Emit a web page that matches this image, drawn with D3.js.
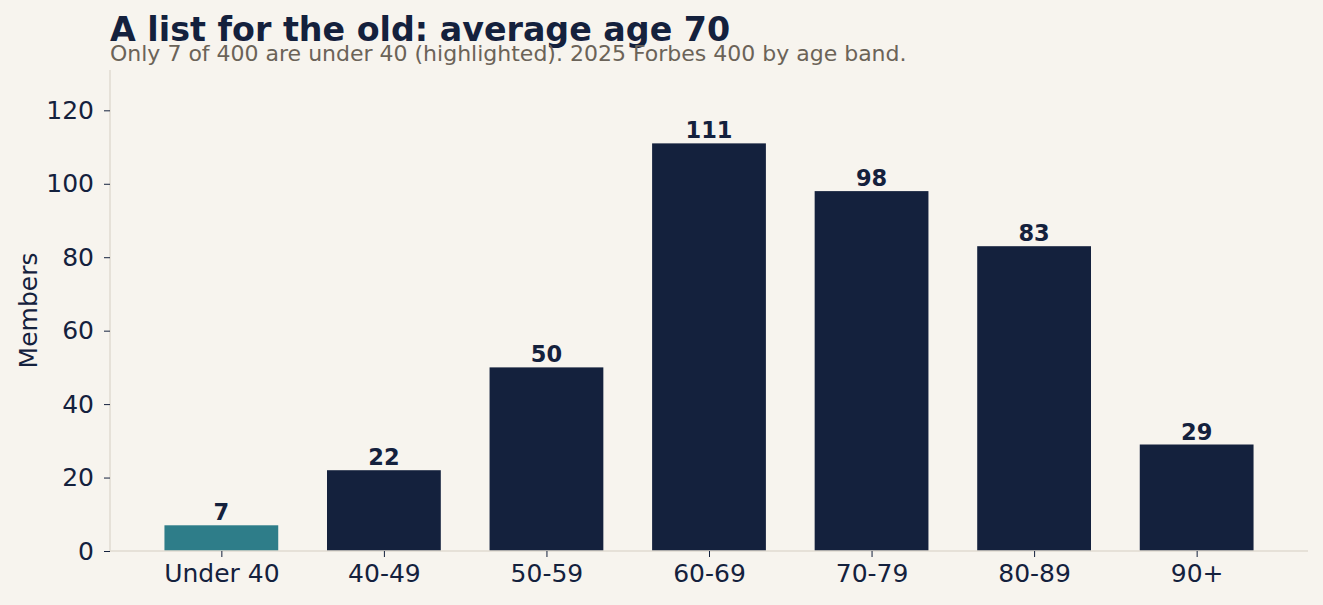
<!DOCTYPE html>
<html><head><meta charset="utf-8">
<script src="https://cdn.jsdelivr.net/npm/d3@7"></script>
<style>
body{margin:0;background:#f7f4ee;}
svg{display:block;font-family:"DejaVu Sans",sans-serif;}
</style></head>
<body><svg id="c" width="1323" height="605"></svg>
<script>
const categories = ["Under 40","40-49","50-59","60-69","70-79","80-89","90+"];
const values = [7,22,50,111,98,83,29];
const highlighted = ["Under 40"];
const yTicks = [0,20,40,60,80,100,120];

const W=1323,H=605;
const m={left:110,right:15,top:70,bottom:54};
const svg=d3.select("#c");
svg.append("rect").attr("width",W).attr("height",H).attr("fill","#f7f4ee");
const iw=W-m.left-m.right, ih=H-m.top-m.bottom;
const g=svg.append("g").attr("transform",`translate(${m.left},${m.top})`);

const n=categories.length;
const x=d3.scaleLinear().domain([-0.685,n-1+0.685]).range([0,iw]);
const y=d3.scaleLinear().domain([0,d3.max(values)*1.18]).range([ih,0]);
const bw=x(0.7)-x(0);

g.selectAll("rect.bar").data(values).join("rect").attr("class","bar")
 .attr("x",(d,i)=>x(i)-bw/2).attr("width",bw)
 .attr("y",d=>y(d)).attr("height",d=>ih-y(d))
 .attr("fill",(d,i)=>highlighted.includes(categories[i])?"#2e7d89":"#14213d");

g.selectAll("text.val").data(values).join("text").attr("class","val")
 .attr("x",(d,i)=>x(i)).attr("y",d=>y(d)-5)
 .attr("text-anchor","middle").attr("font-size",22.5).attr("font-weight","bold")
 .attr("fill","#14213d").text(d=>d);

// axes
const xa=g.append("g").attr("transform",`translate(0,${ih})`)
 .call(d3.axisBottom(x).tickValues(d3.range(n)).tickFormat(i=>categories[i]).tickSizeOuter(0).tickSize(6).tickPadding(7));
const ya=g.append("g").call(d3.axisLeft(y).tickValues(yTicks).tickSizeOuter(0).tickSize(6).tickPadding(10));
[xa,ya].forEach(a=>{
 a.select(".domain").attr("stroke","#e0dbd0").attr("stroke-width",1.5);
 a.selectAll(".tick line").attr("stroke","#14213d");
 a.selectAll(".tick text").attr("fill","#14213d").attr("font-size",25).attr("font-family","DejaVu Sans");
});
xa.select(".domain").attr("d",`M0,0H${iw}`);
ya.select(".domain").attr("d",`M0,${ih}V0`);

svg.append("text").attr("transform",`translate(37,${m.top+ih/2}) rotate(-90)`)
 .attr("text-anchor","middle").attr("font-size",25).attr("fill","#14213d").text("Members");

svg.append("text").attr("x",110).attr("y",41).attr("font-size",33.3).attr("font-weight","bold")
 .attr("fill","#14213d").text("A list for the old: average age 70");
svg.append("text").attr("x",110).attr("y",61).attr("font-size",22)
 .attr("fill","#6b6358").text("Only 7 of 400 are under 40 (highlighted). 2025 Forbes 400 by age band.");
</script></body></html>
